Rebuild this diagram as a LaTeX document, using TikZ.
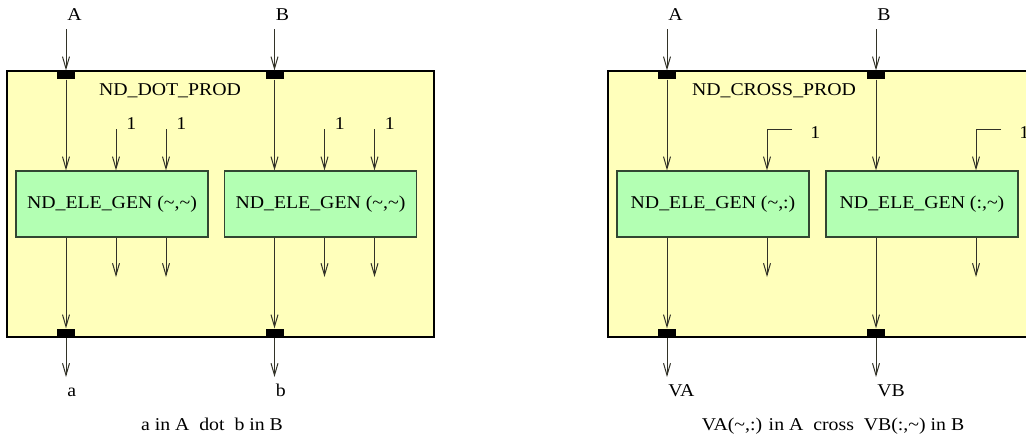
\documentclass[tikz,border=0pt]{standalone}
\usepackage{fontspec}
\setmainfont{Liberation Serif}[FakeStretch=1.1]
\usetikzlibrary{arrows.meta}
\definecolor{panelyellow}{RGB}{255,255,187}
\definecolor{gengreen}{RGB}{179,255,179}
\definecolor{genedge}{RGB}{50,70,50}
\definecolor{wire}{RGB}{50,50,40}
\begin{document}
\begin{tikzpicture}[
  x=0.5pt, y=-0.5pt,
  every node/.style={font=\fontsize{9}{11}\selectfont},
  panel/.style={draw, line width=0.8pt, fill=panelyellow, inner sep=0pt},
  genbox/.style={draw=genedge, fill=gengreen, line width=0.6pt, minimum width=96pt, minimum height=33pt, inner sep=0pt},
  port/.style={fill=black, minimum width=9pt, minimum height=4.2pt, inner sep=0pt},
  lbl/.style={inner sep=0pt, anchor=base west},
  arrow/.style={-{Straight Barb[length=6pt,width=3.5pt]}, draw=wire, line width=0.5pt}
]
\useasboundingbox (0,0) rectangle (1026,436);

% dot product
\node[panel, minimum width=213.5pt, minimum height=133pt] (dot) at (220.5,204) {};
\node[anchor=base] (dotname) at (170,95) {ND\_DOT\_PROD};
\foreach \n/\x/\src/\res in {1/112/A/a, 2/320.5/B/b} {
  \node[genbox] (dg\n) at (\x,204) {ND\_ELE\_GEN (\textasciitilde,\textasciitilde)};
  \node[port] (dpi\n) at (\x-46,75) {};
  \node[port] (dpo\n) at (\x-46,333) {};
  \coordinate (dsrc\n) at (\x-46,29);
  \coordinate (dres\n) at (\x-46,377);
  \node[lbl] (dsrclbl\n) at (\x-45,20) {\src};
  \node[lbl] (dreslbl\n) at (\x-45,396) {\res};
  \draw[arrow] (dsrc\n) -- (dpi\n.north);
  \draw[arrow] (dpi\n.south) -- (dpi\n |- dg\n.north);
  \draw[arrow] (dpi\n |- dg\n.south) -- (dpo\n.north);
  \draw[arrow] (dpo\n.south) -- (dres\n);
  \foreach \k/\dx in {1/4, 2/54} {
    \coordinate (done\n\k) at (\x+\dx,129);
    \coordinate (dsink\n\k) at (\x+\dx,277);
    \node[lbl] (donelbl\n\k) at (\x+\dx+10,129) {1};
    \draw[arrow] (done\n\k) -- (done\n\k |- dg\n.north);
    \draw[arrow] (done\n\k |- dg\n.south) -- (dsink\n\k);
  }
}
\node[anchor=base] (dotcap) at (212,430) {a in A\ \ dot\ \ b in B};

% cross product
\node[panel, minimum width=214pt, minimum height=133pt] (cross) at (822,204) {};
\node[anchor=base] (crossname) at (774,95) {ND\_CROSS\_PROD};
\foreach \n/\x/\spec/\src/\res in {1/713/{(\textasciitilde,:)}/A/VA, 2/922/{(:,\textasciitilde)}/B/VB} {
  \node[genbox] (cg\n) at (\x,204) {ND\_ELE\_GEN \spec};
  \node[port] (cpi\n) at (\x-46,75) {};
  \node[port] (cpo\n) at (\x-46,333) {};
  \coordinate (csrc\n) at (\x-46,29);
  \coordinate (cres\n) at (\x-46,377);
  \node[lbl] (csrclbl\n) at (\x-45,20) {\src};
  \node[lbl] (creslbl\n) at (\x-45,396) {\res};
  \draw[arrow] (csrc\n) -- (cpi\n.north);
  \draw[arrow] (cpi\n.south) -- (cpi\n |- cg\n.north);
  \draw[arrow] (cpi\n |- cg\n.south) -- (cpo\n.north);
  \draw[arrow] (cpo\n.south) -- (cres\n);
  \coordinate (cone\n) at (\x+79,129);
  \coordinate (cbend\n) at (\x+54,129);
  \coordinate (csink\n) at (\x+54,277);
  \node[lbl] (conelbl\n) at (\x+97,138) {1};
  \draw[arrow] (cone\n) -- (cbend\n) -- (cbend\n |- cg\n.north);
  \draw[arrow] (cbend\n |- cg\n.south) -- (csink\n);
}
\node[anchor=base] (crosscap) at (833,430) {VA(\textasciitilde,:) in A\ \ cross\ \ VB(:,\textasciitilde) in B};
\end{tikzpicture}
\end{document}
